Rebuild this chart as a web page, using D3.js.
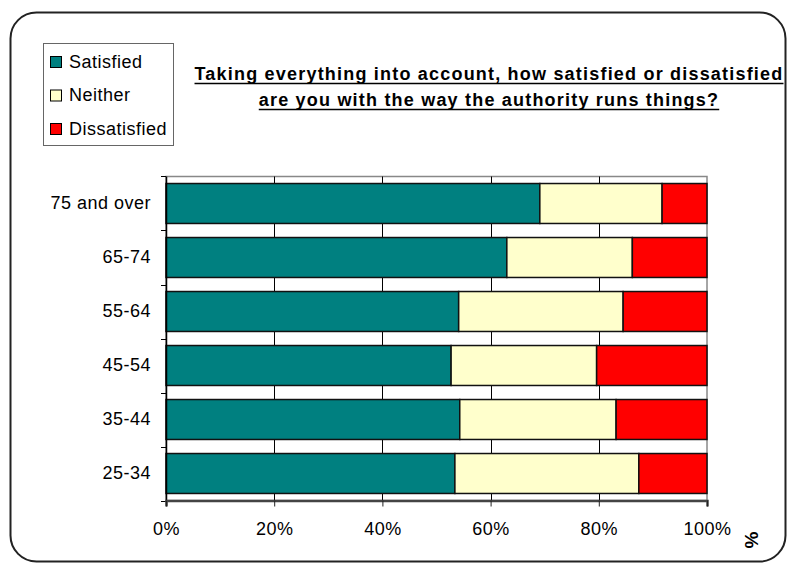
<!DOCTYPE html>
<html>
<head>
<meta charset="utf-8">
<script src="https://cdn.jsdelivr.net/npm/d3@7/dist/d3.min.js"></script>
<style>
  html, body { margin: 0; padding: 0; background: #fff; }
  svg { display: block; font-family: "Liberation Sans", Arial, sans-serif; }
</style>
</head>
<body>
<svg id="chart" width="787" height="563"></svg>
<script>
// Age bands, top to bottom
const categories = ["75 and over", "65-74", "55-64", "45-54", "35-44", "25-34"];
// Share of respondents (%) per age band
const satisfied    = [69.1, 63.0, 54.1, 52.7, 54.3, 53.4];
const neither      = [22.6, 23.2, 30.4, 26.9, 28.9, 34.0];
const dissatisfied = [ 8.3, 13.8, 15.5, 20.4, 16.8, 12.6];
const seriesNames  = ["Satisfied", "Neither", "Dissatisfied"];
const xTicks       = [0, 20, 40, 60, 80, 100];
const titleLines   = [
  "Taking everything into account, how satisfied or dissatisfied",
  "are you with the way the authority runs things?"
];

const colors = { Satisfied: "#008080", Neither: "#FFFFCC", Dissatisfied: "#FF0000" };

const rows = categories.map((c, i) => ({
  cat: c, Satisfied: satisfied[i], Neither: neither[i], Dissatisfied: dissatisfied[i]
}));

const svg = d3.select("#chart");
const labelFont = 18, labelSpacing = 0.5;

// Rounded outer frame
svg.append("rect")
  .attr("x", 10.5).attr("y", 12.5)
  .attr("width", 775).attr("height", 549)
  .attr("rx", 26).attr("ry", 26)
  .attr("fill", "#fff").attr("stroke", "#222").attr("stroke-width", 2);

const plot = { left: 166, right: 707, top: 176.5, bottom: 500.5 };

const x = d3.scaleLinear().domain([0, 100]).range([plot.left, plot.right]);
const y = d3.scaleBand().domain(categories)
  .range([plot.top, plot.bottom])
  .paddingInner(0.26).paddingOuter(0.13);

// Plot area frame (grey top and right)
svg.append("rect")
  .attr("x", plot.left).attr("y", plot.top)
  .attr("width", plot.right - plot.left).attr("height", plot.bottom - plot.top)
  .attr("fill", "none").attr("stroke", "#888").attr("stroke-width", 1.5);

// Vertical gridlines
svg.append("g").selectAll("line")
  .data(xTicks.filter(t => t > 0 && t < 100))
  .join("line")
  .attr("x1", d => Math.round(x(d)) + 0.5).attr("x2", d => Math.round(x(d)) + 0.5)
  .attr("y1", plot.top).attr("y2", plot.bottom)
  .attr("stroke", "#000").attr("stroke-width", 1);

// Stacked bars
const stacked = d3.stack().keys(seriesNames)(rows);
svg.append("g").selectAll("g")
  .data(stacked)
  .join("g")
  .attr("fill", d => colors[d.key])
  .selectAll("rect")
  .data(d => d)
  .join("rect")
  .attr("x", d => x(d[0]))
  .attr("y", d => y(d.data.cat))
  .attr("width", d => x(d[1]) - x(d[0]))
  .attr("height", y.bandwidth())
  .attr("stroke", "#111").attr("stroke-width", 1.5);

// Left axis: labels plus tick marks on band boundaries
const yAxis = svg.append("g")
  .attr("transform", `translate(${plot.left},0)`)
  .call(d3.axisLeft(y).tickSize(0).tickPadding(15));
yAxis.select(".domain").remove();
yAxis.selectAll("text")
  .attr("font-size", labelFont).attr("letter-spacing", labelSpacing)
  .attr("font-family", "Liberation Sans, Arial, sans-serif")
  .attr("fill", "#000");

const boundaries = categories.map(c => y(c) - y.step() * y.paddingInner() / 2)
  .concat([plot.bottom]);
svg.append("g").selectAll("line")
  .data(boundaries)
  .join("line")
  .attr("x1", plot.left - 5).attr("x2", plot.left)
  .attr("y1", d => Math.round(d) + 0.5).attr("y2", d => Math.round(d) + 0.5)
  .attr("stroke", "#000").attr("stroke-width", 1);
svg.append("line")
  .attr("x1", plot.left + 0.5).attr("x2", plot.left + 0.5)
  .attr("y1", plot.top).attr("y2", plot.bottom + 5)
  .attr("stroke", "#000").attr("stroke-width", 1.5);

// Bottom axis
const xAxis = svg.append("g")
  .attr("transform", `translate(0,${plot.bottom})`)
  .call(d3.axisBottom(x).tickValues(xTicks).tickSize(6).tickPadding(16)
    .tickFormat(d => d + "%"));
xAxis.select(".domain")
  .attr("stroke", "#444").attr("stroke-width", 2.5);
xAxis.selectAll(".tick line").attr("stroke", "#222").attr("stroke-width", 1);
xAxis.selectAll("text")
  .attr("font-size", labelFont).attr("letter-spacing", labelSpacing)
  .attr("font-family", "Liberation Sans, Arial, sans-serif")
  .attr("fill", "#000");

// Axis unit label
svg.append("text")
  .attr("transform", "translate(758,540) rotate(-90)")
  .attr("text-anchor", "middle")
  .attr("font-size", 19).attr("font-weight", "bold")
  .attr("fill", "#000")
  .text("%");

// Title, bold and underlined
const titleY = [80, 106];
const titleG = svg.append("g");
titleLines.forEach((line, i) => {
  const t = titleG.append("text")
    .attr("x", 489).attr("y", titleY[i])
    .attr("text-anchor", "middle")
    .attr("font-size", 18).attr("font-weight", "bold")
    .attr("letter-spacing", 1.2)
    .attr("fill", "#000")
    .text(line);
  const bb = t.node().getBBox();
  titleG.append("line")
    .attr("x1", bb.x).attr("x2", bb.x + bb.width)
    .attr("y1", titleY[i] + 3.5).attr("y2", titleY[i] + 3.5)
    .attr("stroke", "#000").attr("stroke-width", 1.6);
});

// Legend
const legend = svg.append("g");
legend.append("rect")
  .attr("x", 43.5).attr("y", 43.5).attr("width", 130).attr("height", 102)
  .attr("fill", "#fff").attr("stroke", "#666").attr("stroke-width", 1);
const legendY = [67.5, 101, 134.5];
seriesNames.forEach((name, i) => {
  legend.append("rect")
    .attr("x", 50.5).attr("y", legendY[i] - 11)
    .attr("width", 11).attr("height", 11)
    .attr("fill", colors[name]).attr("stroke", "#000").attr("stroke-width", 1);
  legend.append("text")
    .attr("x", 69).attr("y", legendY[i])
    .attr("font-size", labelFont).attr("letter-spacing", labelSpacing)
    .attr("fill", "#000")
    .text(name);
});
</script>
</body>
</html>
